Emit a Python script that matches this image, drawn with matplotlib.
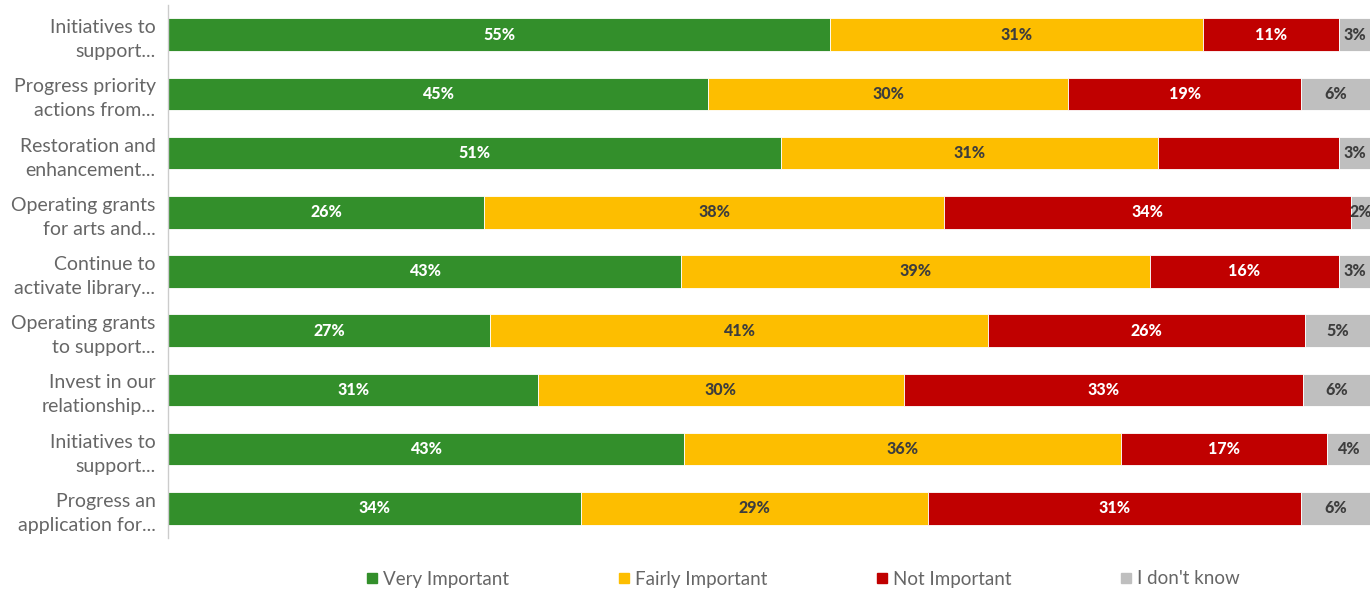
import matplotlib
matplotlib.use("Agg")
import matplotlib.pyplot as plt
from matplotlib.lines import Line2D
import numpy as np

categories = [
    "Initiatives to\nsupport...",
    "Progress priority\nactions from...",
    "Restoration and\nenhancement...",
    "Operating grants\nfor arts and...",
    "Continue to\nactivate library...",
    "Operating grants\nto support...",
    "Invest in our\nrelationship...",
    "Initiatives to\nsupport...",
    "Progress an\napplication for...",
]
very_important = [55.1, 44.9, 51.0, 26.3, 42.7, 26.8, 30.8, 42.9, 34.4]
fairly_important = [31.0, 30.0, 31.4, 38.3, 39.0, 41.4, 30.4, 36.4, 28.8]
not_important = [11.3, 19.4, 15.0, 33.8, 15.7, 26.4, 33.2, 17.1, 31.1]
dont_know = [2.6, 5.7, 2.6, 1.6, 2.6, 5.4, 5.6, 3.6, 5.7]
series_names = ["Very Important", "Fairly Important", "Not Important", "I don't know"]
hidden_labels = [(2, 2)]  # (row, series) without a value label in the original

colors = ["#338f2b", "#fdbe00", "#c00000", "#bfbfbf"]
text_colors = ["white", "#3d3d3d", "white", "#3d3d3d"]

plt.rcParams['font.family'] = ['Lato', 'DejaVu Sans']

fig = plt.figure(figsize=(13.7, 5.9), dpi=100)
ax = fig.add_axes([168 / 1370, 1 - 538 / 590, 1 - 168 / 1370, (538 - 5) / 590])

y = np.arange(len(categories))
left = np.zeros(len(categories))
all_series = [very_important, fairly_important, not_important, dont_know]
for si, vals in enumerate(all_series):
    vals = np.array(vals)
    ax.barh(y, vals, left=left, height=0.55, color=colors[si],
            edgecolor="white", linewidth=0.6)
    for ri, v in enumerate(vals):
        if (ri, si) in hidden_labels:
            continue
        ax.text(left[ri] + v / 2, y[ri], f"{int(round(v))}%", ha="center",
                va="center", color=text_colors[si], fontsize=11.5,
                fontweight="black")
    left += vals

ax.set_xlim(0, 100)
ax.set_ylim(len(categories) - 0.5, -0.5)
ax.set_yticks(y)
ax.set_yticklabels(categories, fontsize=14, color="#666666",
                   linespacing=1.5, ha="right")
ax.tick_params(axis="y", length=0, pad=9)
ax.set_xticks([])
for s in ["top", "right", "bottom"]:
    ax.spines[s].set_visible(False)
ax.spines["left"].set_color("#cccccc")
ax.spines["left"].set_linewidth(1)

handles = [Line2D([], [], marker="s", linestyle="none", markersize=7.5,
                  markerfacecolor=c, markeredgecolor=c) for c in colors]
fig.legend(handles, series_names, loc="center", bbox_to_anchor=(803 / 1370, 1 - 579 / 590),
           ncol=4, frameon=False, fontsize=13.5, labelcolor="#666666",
           handlelength=0.6, handletextpad=0.3, columnspacing=5.8)

fig.savefig("out.png", dpi=100)
